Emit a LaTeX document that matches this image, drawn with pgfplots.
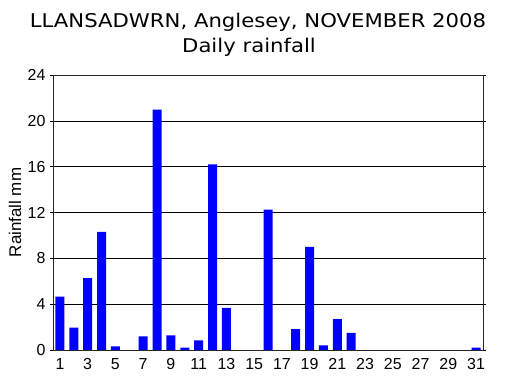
\documentclass[border=0pt]{standalone}
\usepackage{pgfplots}
\pgfplotsset{compat=1.18}
\usepackage{fontspec}
\setmainfont{Liberation Sans}
\newfontfamily\titlefont[FakeStretch=1.12]{DejaVu Sans}
\begin{document}
\begin{tikzpicture}
\useasboundingbox (0,0) rectangle (509bp,378bp);
\begin{axis}[
  at={(53bp,28bp)}, anchor=south west,
  scale only axis, width=430bp, height=275bp,
  xmin=0.5, xmax=31.5, ymin=0, ymax=24,
  xtick={1,3,...,31}, ytick={0,4,...,24},
  major x tick style={draw=none},
  ytick style={black, line width=0.6pt}, tick align=outside, major tick length=3bp,
  ymajorgrids, grid style={black, line width=0.6pt},
  axis line style={black!85, line width=0.6pt},
  tick label style={font=\fontsize{16}{18}\selectfont},
  yticklabel style={xshift=-1bp},
  xticklabel style={yshift=-2bp},
  /pgf/number format/assume math mode=true,
  ylabel={Rainfall mm},
  ylabel style={font=\fontsize{17}{19}\selectfont, at={(axis description cs:-0.088,0.5)}, anchor=center},
]
\addplot[ybar, bar width=9bp, fill=blue, draw=none] coordinates {
(1,4.65) (2,1.95) (3,6.28) (4,10.3) (5,0.32) (6,0) (7,1.19) (8,20.97)
(9,1.28) (10,0.2) (11,0.84) (12,16.2) (13,3.67) (14,0) (15,0) (16,12.25)
(17,0) (18,1.83) (19,9.0) (20,0.4) (21,2.7) (22,1.5) (23,0) (24,0)
(25,0) (26,0) (27,0) (28,0) (29,0) (30,0) (31,0.2)
};
\end{axis}
\node[anchor=base, inner sep=0pt, font=\titlefont\fontsize{19}{21}\selectfont] at (258bp,350bp) {LLANSADWRN, Anglesey, NOVEMBER 2008};
\node[anchor=base, inner sep=0pt, font=\titlefont\fontsize{19}{21}\selectfont] at (249bp,325bp) {Daily rainfall};
\end{tikzpicture}
\end{document}
